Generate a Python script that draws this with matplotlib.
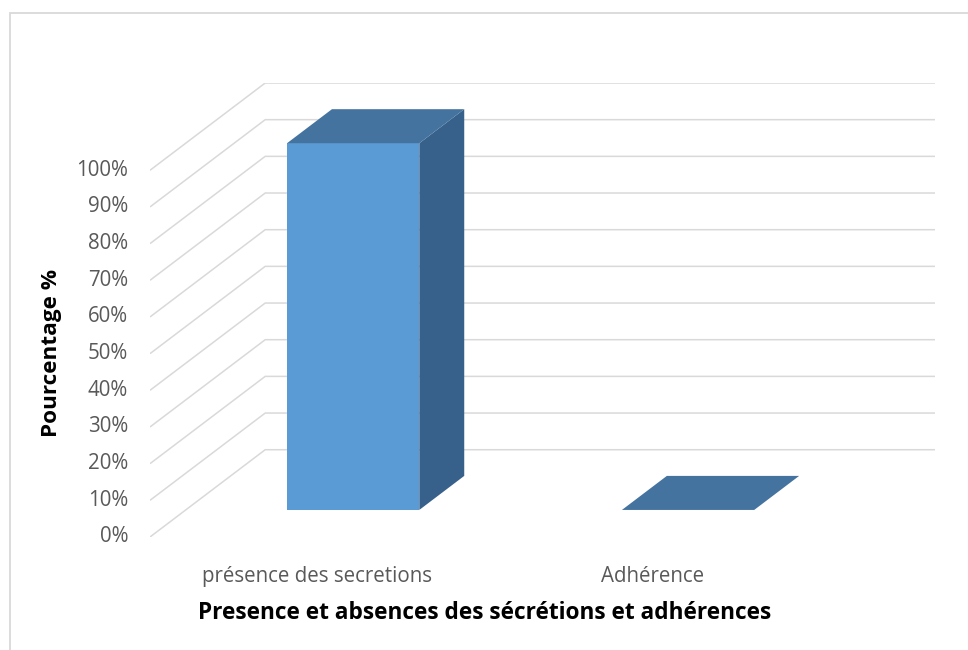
import numpy as np
import matplotlib.pyplot as plt
from matplotlib.patches import Polygon, Rectangle

plt.rcParams['font.family'] = ['Open Sans', 'DejaVu Sans']

categories = ["présence des secretions", "Adhérence"]
values = [100, 0]          # pourcentage
ticks = np.arange(0, 101, 10)

# vue oblique type Excel 3D : décalage de profondeur (unités x, unités %)
depth_dx = 0.344
depth_dy = 23.8
bar_w = 0.395
z0, z1 = 0.31, 0.70       # profondeur avant / arrière des barres
ncat = len(categories)

def proj(x, z, v):
    return (x + z * depth_dx, v + z * depth_dy)

fig = plt.figure(figsize=(9.68, 6.5), dpi=100)
W, H = 968, 650
ax = fig.add_axes([150 / W, (H - 537) / H, (935 - 150) / W, (537 - 83) / H])
ax.set_xlim(0, ncat + depth_dx)
ax.set_ylim(0, 100 + depth_dy)
ax.axis('off')

# cadre de la zone graphique
fig.add_artist(Rectangle((10 / W, -0.1), 1.2, (H - 13) / H + 0.1,
                         transform=fig.transFigure, fill=False,
                         edgecolor='#d9d9d9', lw=1.3))

grid_c = '#d9d9d9'
for t in ticks:
    p0 = proj(0, 0, t)
    p1 = proj(0, 1, t)
    p2 = proj(ncat, 1, t)
    ax.plot([p0[0], p1[0], p2[0]], [p0[1], p1[1], p2[1]],
            color=grid_c, lw=1.1, solid_capstyle='butt', zorder=1)
    ax.text(-0.065, t, "%d%%" % t, ha='right', va='center',
            fontsize=14.8, color='#595959')

front_c = '#5b9bd5'
top_c = '#44739f'
side_c = '#37618a'
for i, v in enumerate(values):
    xl = i + 0.5 - bar_w / 2
    xr = i + 0.5 + bar_w / 2
    if v > 0:
        ax.add_patch(Polygon([proj(xr, z0, 0), proj(xr, z1, 0),
                              proj(xr, z1, v), proj(xr, z0, v)],
                             closed=True, facecolor=side_c, edgecolor='none', zorder=3))
        ax.add_patch(Polygon([proj(xl, z0, 0), proj(xr, z0, 0),
                              proj(xr, z0, v), proj(xl, z0, v)],
                             closed=True, facecolor=front_c, edgecolor='none', zorder=4))
    ax.add_patch(Polygon([proj(xl, z0, v), proj(xr, z0, v),
                          proj(xr, z1, v), proj(xl, z1, v)],
                         closed=True, facecolor=top_c, edgecolor='none', zorder=4))

for i, c in enumerate(categories):
    ax.text(i + 0.5, -10.8, c, ha='center', va='center', fontsize=14.8, color='#595959')

ax.text(ncat / 2, -20.8, "Presence et absences des sécrétions et adhérences",
        ha='center', va='center', fontsize=16.3, fontweight='bold', color='black')
fig.text(52 / W, 1 - 353 / H, "Pourcentage %", rotation=90, ha='center', va='center',
         fontsize=16.2, fontweight='bold', color='black')

fig.savefig("out.png", dpi=100)
